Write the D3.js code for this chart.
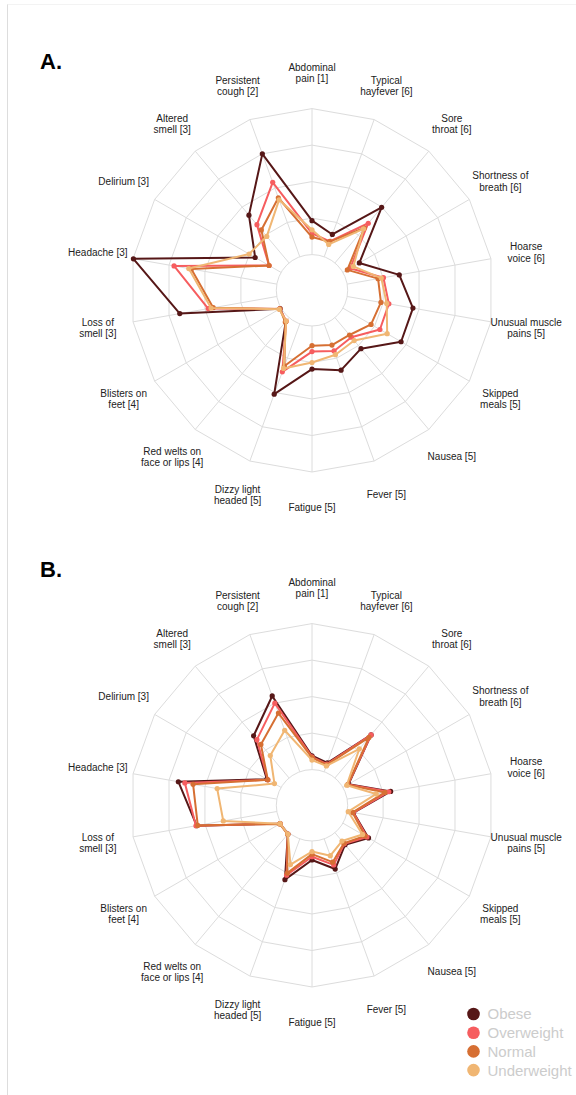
<!DOCTYPE html>
<html>
<head>
<meta charset="utf-8">
<script src="https://cdn.jsdelivr.net/npm/d3@7"></script>
<style>
  html, body { margin: 0; padding: 0; background: #ffffff; }
  svg { display: block; font-family: "Liberation Sans", Arial, Helvetica, sans-serif; }
</style>
</head>
<body>
<svg id="chart" width="576" height="1095"></svg>
<script>
// Symptom axes, clockwise from the top; "\n" splits a label over two lines
const symptoms = [
  "Abdominal\npain [1]", "Typical\nhayfever [6]", "Sore\nthroat [6]", "Shortness of\nbreath [6]",
  "Hoarse\nvoice [6]", "Unusual muscle\npains [5]", "Skipped\nmeals [5]", "Nausea [5]",
  "Fever [5]", "Fatigue [5]", "Dizzy light\nheaded [5]", "Red welts on\nface or lips [4]",
  "Blisters on\nfeet [4]", "Loss of\nsmell [3]", "Headache [3]", "Delirium [3]",
  "Altered\nsmell [3]", "Persistent\ncough [2]"
];

const groups = ["Obese", "Overweight", "Normal", "Underweight"];
const groupColors = ["#561717", "#f65d5f", "#d66f33", "#f0b673"];

// Panel A values per BMI group (one value per symptom, same order as above)
const panelA_obese       = [0.93, 0.65, 1.99, 0.52, 1.45, 1.83, 1.84, 1.11, 1.35, 1.18, 2.05, 0.14, 0.03, 2.70, 3.99, 0.82, 1.71, 3.00];
const panelA_overweight  = [0.58, 0.45, 1.42, 0.23, 1.01, 1.16, 1.17, 0.70, 0.79, 0.70, 1.40, 0.12, 0.04, 1.91, 2.86, 0.38, 1.37, 2.17];
const panelA_normal      = [0.48, 0.44, 1.25, 0.14, 0.86, 0.94, 0.89, 0.62, 0.62, 0.54, 1.23, 0.16, 0.04, 1.77, 2.38, 0.38, 1.18, 1.72];
const panelA_underweight = [0.68, 0.36, 1.22, 0.33, 0.95, 1.10, 1.40, 0.82, 0.90, 1.00, 1.30, 0.12, 0.06, 1.83, 2.45, 1.01, 0.95, 1.66];

// Panel B values per BMI group
const panelB_obese       = [0.38, 0.26, 1.54, 0.18, 1.21, 0.18, 0.81, 0.43, 0.88, 0.52, 1.19, 0.05, 0.03, 2.23, 2.74, 0.45, 1.51, 2.21];
const panelB_overweight  = [0.35, 0.22, 1.54, 0.16, 1.16, 0.17, 0.76, 0.40, 0.76, 0.43, 1.06, 0.05, 0.03, 2.25, 2.56, 0.42, 1.37, 2.00];
const panelB_normal      = [0.33, 0.20, 1.45, 0.15, 1.05, 0.15, 0.70, 0.38, 0.68, 0.36, 1.00, 0.06, 0.04, 2.20, 2.33, 0.42, 1.20, 1.71];
const panelB_underweight = [0.26, 0.17, 1.04, 0.12, 0.81, 0.03, 0.62, 0.30, 0.49, 0.29, 0.75, 0.05, 0.03, 1.49, 1.66, 0.21, 0.80, 1.21];

const gridLevels = [0, 1, 2, 3, 4];

const panels = [
  { title: "A.", cy: 290.3, titleY: 69,  series: [panelA_obese, panelA_overweight, panelA_normal, panelA_underweight] },
  { title: "B.", cy: 805.3, titleY: 577, series: [panelB_obese, panelB_overweight, panelB_normal, panelB_underweight] }
];

const svg = d3.select("#chart");
const W = 576, H = 1095;
const cx = 312;

// Frame lines along the left and top edges
svg.append("line").attr("x1", 7.5).attr("x2", 7.5).attr("y1", 4).attr("y2", H)
  .attr("stroke", "#dddddd").attr("stroke-width", 1);
svg.append("line").attr("x1", 7.5).attr("x2", W).attr("y1", 4.5).attr("y2", 4.5)
  .attr("stroke", "#f3f3f3").attr("stroke-width", 1);

const n = symptoms.length;
const angle = d3.scaleLinear().domain([0, n]).range([0, 2 * Math.PI]);
const radius = d3.scaleLinear().domain([0, 4]).range([35.7, 181.7]);
const labelRadius = 217.5;

const toXY = (i, r) => [r * Math.sin(angle(i)), -r * Math.cos(angle(i))];

panels.forEach(p => {
  const g = svg.append("g").attr("transform", `translate(${cx},${p.cy})`);

  // Grid: inner circle at the base level, polygons above it
  gridLevels.forEach(lv => {
    if (lv === 0) {
      g.append("circle").attr("r", radius(lv))
        .attr("fill", "none").attr("stroke", "#dcdcdc").attr("stroke-width", 1);
    } else {
      const ring = d3.range(n).map(i => toXY(i, radius(lv)));
      g.append("path").attr("d", d3.line().curve(d3.curveLinearClosed)(ring))
        .attr("fill", "none").attr("stroke", "#dcdcdc").attr("stroke-width", 1);
    }
  });

  // Spokes
  g.selectAll("line.spoke").data(symptoms).join("line")
    .attr("class", "spoke")
    .attr("x1", (d, i) => toXY(i, radius(0))[0])
    .attr("y1", (d, i) => toXY(i, radius(0))[1])
    .attr("x2", (d, i) => toXY(i, radius(4))[0])
    .attr("y2", (d, i) => toXY(i, radius(4))[1])
    .attr("stroke", "#dcdcdc").attr("stroke-width", 1);

  // Axis labels, centred on a circle outside the grid
  const lineH = 11.3;
  symptoms.forEach((s, i) => {
    const [lx, ly] = toXY(i, labelRadius);
    const lines = s.split("\n");
    const t = g.append("text")
      .attr("text-anchor", "middle")
      .attr("font-size", 10)
      .attr("fill", "#222222");
    lines.forEach((ln, k) => {
      t.append("tspan")
        .attr("x", lx)
        .attr("y", ly + (k - (lines.length - 1) / 2) * lineH)
        .attr("dy", "0.35em")
        .text(ln);
    });
  });

  // Series polygons and points
  const radial = d3.lineRadial()
    .angle((d, i) => angle(i))
    .radius(d => radius(d))
    .curve(d3.curveLinearClosed);

  p.series.forEach((vals, gi) => {
    g.append("path").attr("d", radial(vals))
      .attr("fill", "none")
      .attr("stroke", groupColors[gi])
      .attr("stroke-width", 2)
      .attr("stroke-linejoin", "round");
    g.selectAll(null).data(vals).join("circle")
      .attr("cx", (d, i) => toXY(i, radius(d))[0])
      .attr("cy", (d, i) => toXY(i, radius(d))[1])
      .attr("r", 2.6)
      .attr("fill", groupColors[gi]);
  });

  // Panel title
  svg.append("text").attr("x", 40).attr("y", p.titleY)
    .attr("font-size", 22).attr("font-weight", "bold").attr("fill", "#000")
    .text(p.title);
});

// Legend
const legend = svg.append("g").attr("transform", "translate(473.5,1014)");
groups.forEach((gname, i) => {
  const row = legend.append("g").attr("transform", `translate(0,${i * 18.7})`);
  row.append("circle").attr("r", 6.3).attr("fill", groupColors[i]);
  row.append("text").attr("x", 14).attr("dy", "0.36em")
    .attr("font-size", 15).attr("fill", "#cccccc").text(gname);
});
</script>
</body>
</html>
